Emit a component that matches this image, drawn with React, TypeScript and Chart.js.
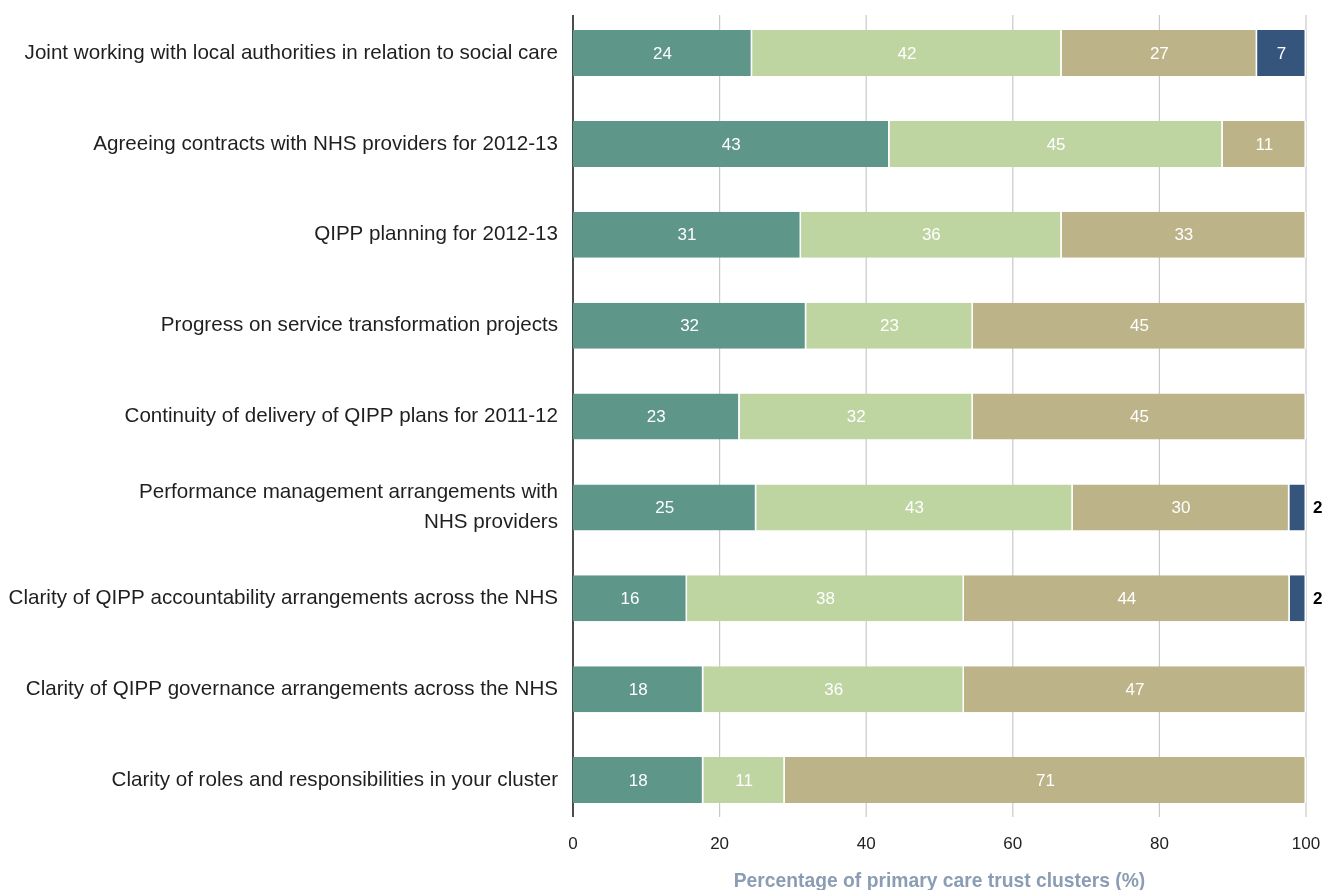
import React, { useEffect, useRef } from "react";
import { Chart, registerables } from "chart.js";

Chart.register(...registerables);

const categories: (string | string[])[] = [
  "Joint working with local authorities in relation to social care",
  "Agreeing contracts with NHS providers for 2012-13",
  "QIPP planning for 2012-13",
  "Progress on service transformation projects",
  "Continuity of delivery of QIPP plans for 2011-12",
  ["Performance management arrangements with", "NHS providers"],
  "Clarity of QIPP accountability arrangements across the NHS",
  "Clarity of QIPP governance arrangements across the NHS",
  "Clarity of roles and responsibilities in your cluster",
];

const seriesNames = ["Segment 1", "Segment 2", "Segment 3", "Segment 4"];
const series1 = [24.44, 43.18, 31.11, 31.82, 22.73, 25.0, 15.56, 17.78, 17.78];
const series2 = [42.22, 45.45, 35.56, 22.73, 31.82, 43.18, 37.78, 35.56, 11.11];
const series3 = [26.67, 11.36, 33.33, 45.45, 45.45, 29.55, 44.44, 46.67, 71.11];
const series4 = [6.67, 0, 0, 0, 0, 2.27, 2.22, 0, 0];
const seriesColors = ["#5e968a", "#bed5a2", "#bdb389", "#35557d"];

const xMin = 0;
const xMax = 100;
const xStep = 20;
const xTitle = "Percentage of primary care trust clusters (%)";

const FONT = "'Liberation Sans', Arial, Helvetica, sans-serif";

const gridPlugin = {
  id: "customGrid",
  beforeDatasetsDraw(chart: any) {
    const { ctx, chartArea, scales } = chart;
    const x = scales.x;
    const top = chartArea.top + 7.4;
    const bottom = chartArea.bottom - 8.5;
    ctx.save();
    x.ticks.forEach((t: any) => {
      const px = x.getPixelForValue(t.value);
      ctx.beginPath();
      if (t.value === 0) {
        ctx.strokeStyle = "#000000";
        ctx.lineWidth = 1.4;
      } else {
        ctx.strokeStyle = "#c9c9c9";
        ctx.lineWidth = 1.2;
      }
      ctx.moveTo(px, top);
      ctx.lineTo(px, bottom);
      ctx.stroke();
    });
    ctx.restore();
  },
};

const labelPlugin = {
  id: "segLabels",
  afterDatasetsDraw(chart: any) {
    const { ctx } = chart;
    ctx.save();
    ctx.textBaseline = "middle";
    chart.data.datasets.forEach((ds: any, di: number) => {
      const meta = chart.getDatasetMeta(di);
      meta.data.forEach((el: any, i: number) => {
        const v = ds.data[i];
        if (!v) return;
        const txt = String(Math.round(v));
        const w = Math.abs(el.x - el.base);
        if (w < 25) {
          ctx.fillStyle = "#000000";
          ctx.font = `bold 17px ${FONT}`;
          ctx.textAlign = "left";
          ctx.fillText(txt, Math.max(el.x, el.base) + 7, el.y + 1);
        } else {
          ctx.fillStyle = "#ffffff";
          ctx.font = `17px ${FONT}`;
          ctx.textAlign = "center";
          ctx.fillText(txt, (el.x + el.base) / 2, el.y + 1);
        }
      });
    });
    ctx.restore();
  },
};

export default function App() {
  const ref = useRef<HTMLCanvasElement>(null);

  useEffect(() => {
    if (!ref.current) return;
    const data = [series1, series2, series3, series4];
    const chart = new Chart(ref.current, {
      type: "bar",
      data: {
        labels: categories,
        datasets: data.map((d, i) => ({
          label: seriesNames[i],
          data: d,
          backgroundColor: seriesColors[i],
          borderColor: "#ffffff",
          borderWidth: { left: 0, right: 1.5, top: 0, bottom: 0 },
          borderSkipped: false,
          barPercentage: 0.506,
          categoryPercentage: 1,
        })),
      },
      options: {
        indexAxis: "y",
        responsive: false,
        animation: false,
        layout: { padding: { left: 0, right: 19, top: 7.6, bottom: 0 } },
        plugins: {
          legend: { display: false },
          tooltip: { enabled: false },
          title: { display: false },
        },
        scales: {
          x: {
            stacked: true,
            min: xMin,
            max: xMax,
            border: { display: false },
            grid: { display: false, drawTicks: false },
            ticks: {
              stepSize: xStep,
              padding: 9,
              color: "#222222",
              font: { family: FONT, size: 17 },
            },
            title: {
              display: true,
              text: xTitle,
              color: "#8a9db4",
              font: { family: FONT, size: 19.3, weight: "bold" },
              padding: { top: 0, bottom: -3 },
            },
            afterFit(scale: any) {
              scale.height = 64.5;
              scale.paddingLeft = 0;
              scale.paddingRight = 0;
            },
          },
          y: {
            stacked: true,
            border: { display: false },
            grid: { display: false, drawTicks: false },
            ticks: {
              padding: 15,
              color: "#1f1f1f",
              font: { family: FONT, size: 20.6, lineHeight: 1.46 },
              autoSkip: false,
            },
            afterFit(scale: any) {
              scale.width = 573;
              scale.paddingTop = 0;
              scale.paddingBottom = 0;
            },
          },
        },
      },
      plugins: [gridPlugin, labelPlugin],
    } as any);
    return () => chart.destroy();
  }, []);

  return (
    <div style={{ position: "absolute", left: 0, top: 0, width: 1325, height: 890, background: "#ffffff" }}>
      <canvas ref={ref} width={1325} height={890} style={{ display: "block" }} />
    </div>
  );
}
